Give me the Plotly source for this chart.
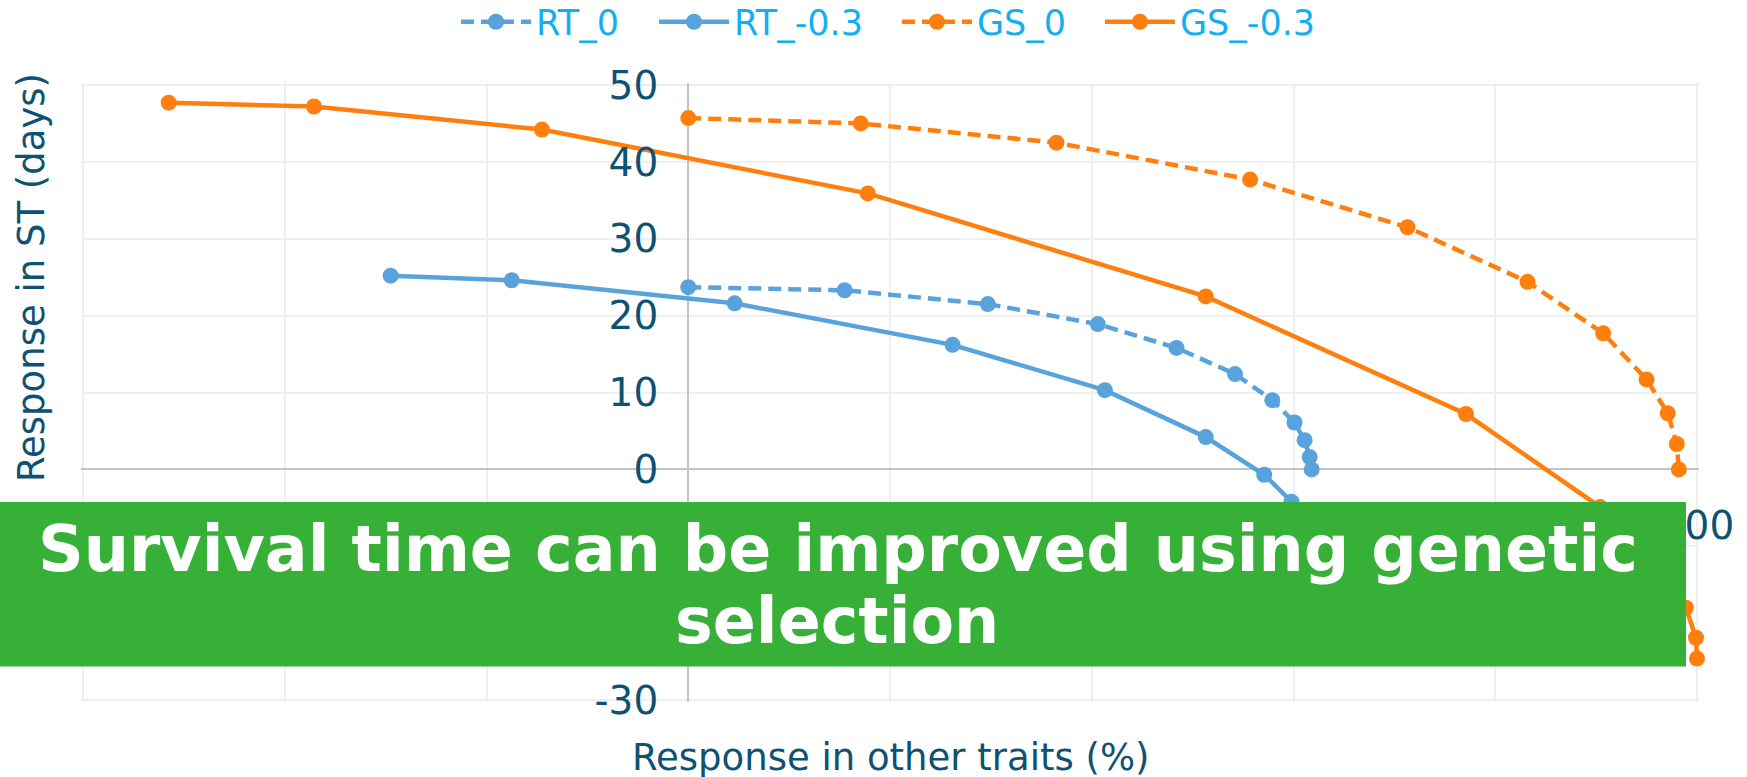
import plotly.graph_objects as go

# ---- data ----
rt0_x = [0.0, 15.5, 29.7, 40.6, 48.4, 54.2, 57.9, 60.1, 61.1, 61.6, 61.8]
rt0_y = [23.7, 23.3, 21.5, 18.9, 15.8, 12.4, 9.0, 6.1, 3.8, 1.6, 0.0]

rt3_x = [-29.5, -17.5, 4.6, 26.2, 41.3, 51.3, 57.1, 59.8, 61.4, 62.2, 62.5]
rt3_y = [25.2, 24.6, 21.6, 16.2, 10.3, 4.2, -0.7, -4.2, -9.0, -14.0, -18.0]

gs0_x = [0.0, 17.1, 36.5, 55.7, 71.3, 83.2, 90.7, 95.0, 97.1, 98.0, 98.2]
gs0_y = [45.7, 45.0, 42.5, 37.7, 31.5, 24.4, 17.7, 11.7, 7.3, 3.3, 0.0]

gs3_x = [-51.5, -37.1, -14.5, 17.8, 51.3, 77.1, 90.4, 95.5, 98.9, 99.9, 100.0]
gs3_y = [47.7, 47.2, 44.2, 35.9, 22.5, 7.2, -4.9, -11.8, -18.0, -21.9, -24.6]

series_names = ["RT_0", "RT_-0.3", "GS_0", "GS_-0.3"]
x_ticks = [-60, -40, -20, 0, 20, 40, 60, 80, 100]
y_ticks = [-30, -20, -10, 0, 10, 20, 30, 40, 50]

x_title = "Response in other traits (%)"
y_title = "Response in ST (days)"
banner_line1 = "Survival time can be improved using genetic"
banner_line2 = "selection"

# ---- style ----
W, H = 1747, 777
PAD = 2  # small pad so the edge gridlines are drawn
ML, MR, MT, MB = 83 - PAD, 50 - PAD, 85 - PAD, 77 - PAD
PW, PH = W - ML - MR, H - MT - MB
X_MIN, X_MAX = x_ticks[0], x_ticks[-1]
Y_MIN, Y_MAX = y_ticks[0], y_ticks[-1]
x_pad = PAD * (X_MAX - X_MIN) / (PW - 2 * PAD)
y_pad = PAD * (Y_MAX - Y_MIN) / (PH - 2 * PAD)
x_range = [X_MIN - x_pad, X_MAX + x_pad]
y_range = [Y_MIN - y_pad, Y_MAX + y_pad]
x_axis_pos = (0 - y_range[0]) / (y_range[1] - y_range[0])
y_axis_pos = (0 - x_range[0]) / (x_range[1] - x_range[0])

BLUE = "#58a3dc"
ORANGE = "#ff7f0e"
TICK_COLOR = "#0e5273"
LEGEND_COLOR = "#14aff0"
FONT = "DejaVu Sans"
DASH = "13px,7px"
LEGEND_WIDTHS = [113, 158, 118, 140]


def px_x(p):
    return (p - ML) / PW


def px_y(p):
    return (H - MB - p) / PH


fig = go.Figure()
specs = [
    (rt0_x, rt0_y, BLUE, DASH),
    (rt3_x, rt3_y, BLUE, "solid"),
    (gs0_x, gs0_y, ORANGE, DASH),
    (gs3_x, gs3_y, ORANGE, "solid"),
]
for name, (xs, ys, col, dash), lw in zip(series_names, specs, LEGEND_WIDTHS):
    fig.add_trace(go.Scatter(
        x=xs, y=ys, name=name, mode="lines+markers",
        line=dict(color=col, width=4.5, dash=dash),
        marker=dict(color=col, size=16),
        cliponaxis=False, legendwidth=lw,
    ))

fig.update_layout(
    width=W, height=H,
    margin=dict(l=ML, r=MR, t=MT, b=MB),
    paper_bgcolor="white", plot_bgcolor="white",
    font=dict(family=FONT, color=TICK_COLOR),
    showlegend=True,
    legend=dict(
        orientation="h", xref="container", yref="container",
        x=456 / W, xanchor="left", y=1 - 22 / H, yanchor="middle",
        font=dict(size=35, color=LEGEND_COLOR, family=FONT),
        itemwidth=70, bgcolor="rgba(0,0,0,0)",
    ),
    xaxis=dict(
        range=x_range, tickvals=x_ticks, ticktext=[str(v) for v in x_ticks],
        anchor="free", position=x_axis_pos,
        showgrid=True, gridcolor="#efefef", gridwidth=2,
        zeroline=True, zerolinecolor="#c4c4c4", zerolinewidth=2,
        showline=False, ticks="", ticklabelstandoff=30,
        tickfont=dict(size=39, color=TICK_COLOR, family=FONT),
    ),
    yaxis=dict(
        range=y_range, tickvals=y_ticks, ticktext=[str(v) for v in y_ticks],
        anchor="free", position=y_axis_pos,
        showgrid=True, gridcolor="#efefef", gridwidth=2,
        zeroline=True, zerolinecolor="#c4c4c4", zerolinewidth=2,
        showline=False, ticks="", ticklabelstandoff=30,
        tickfont=dict(size=39, color=TICK_COLOR, family=FONT),
    ),
)

# axis titles
fig.add_annotation(
    text=x_title, xref="paper", yref="paper",
    x=px_x(891), y=px_y(757), xanchor="center", yanchor="middle",
    showarrow=False, font=dict(size=37, color=TICK_COLOR, family=FONT),
)
fig.add_annotation(
    text=y_title, xref="paper", yref="paper",
    x=px_x(31), y=px_y(278), xanchor="center", yanchor="middle",
    textangle=-90, showarrow=False,
    font=dict(size=37, color=TICK_COLOR, family=FONT),
)

# green banner
fig.add_shape(
    type="rect", xref="paper", yref="paper",
    x0=px_x(-5), x1=px_x(1686), y0=px_y(666.5), y1=px_y(502),
    fillcolor="#36b037", line=dict(width=0), layer="above",
)
fig.add_annotation(
    text=banner_line1, xref="paper", yref="paper",
    x=px_x(838), y=px_y(549), xanchor="center", yanchor="middle",
    showarrow=False, font=dict(size=63.5, color="white", family=FONT, weight="bold"),
)
fig.add_annotation(
    text=banner_line2, xref="paper", yref="paper",
    x=px_x(837), y=px_y(621), xanchor="center", yanchor="middle",
    showarrow=False, font=dict(size=63.5, color="white", family=FONT, weight="bold"),
)

fig.write_html(
    "out.html",
    config={"displayModeBar": False},
    post_script="document.body.style.margin='0px';document.body.style.overflow='hidden';",
)
